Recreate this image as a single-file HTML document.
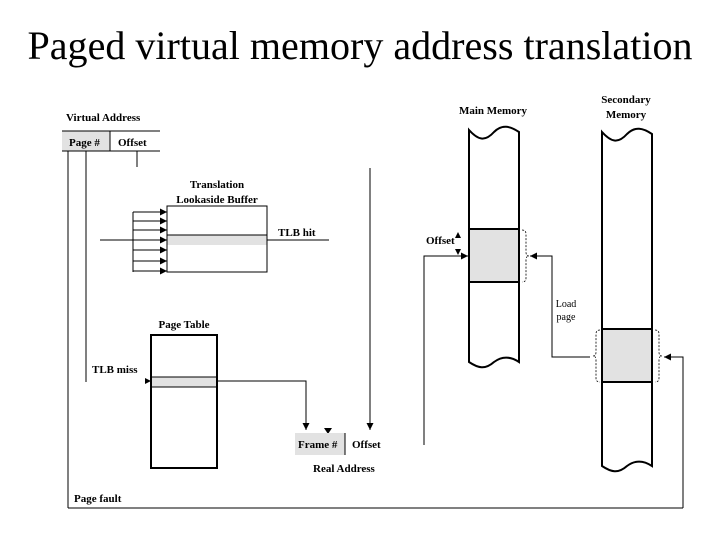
<!DOCTYPE html>
<html><head><meta charset="utf-8"><style>
html,body{margin:0;padding:0;background:#fff;}
svg{display:block;}
text{font-family:"Liberation Serif",serif;fill:#000;}
.b{font-weight:bold;font-size:11px;}
</style></head><body>
<svg width="720" height="540" viewBox="0 0 720 540" xmlns="http://www.w3.org/2000/svg">
<defs>
<marker id="a" markerWidth="8" markerHeight="8" refX="7" refY="4" orient="auto" markerUnits="userSpaceOnUse">
<path d="M0,0.5 L7,4 L0,7.5 Z" fill="#000"/></marker>
</defs>
<text x="360" y="59" font-size="40" text-anchor="middle" textLength="665" lengthAdjust="spacingAndGlyphs">Paged virtual memory address translation</text>

<!-- Virtual address -->
<text class="b" x="66" y="121">Virtual Address</text>
<rect x="62" y="131" width="48" height="20" fill="#e2e2e2"/>
<line x1="62" y1="131" x2="160" y2="131" stroke="#000"/>
<line x1="62" y1="151" x2="160" y2="151" stroke="#000"/>
<line x1="110" y1="131" x2="110" y2="151" stroke="#000"/>
<text class="b" x="69" y="146">Page #</text>
<text class="b" x="118" y="146">Offset</text>
<line x1="68" y1="151" x2="68" y2="508" stroke="#000"/>
<line x1="86" y1="151" x2="86" y2="382" stroke="#000"/>
<line x1="137" y1="151" x2="137" y2="167" stroke="#000"/>
<line x1="68" y1="508" x2="683" y2="508" stroke="#000"/>
<text class="b" x="74" y="502">Page fault</text>

<!-- TLB -->
<text class="b" x="217" y="188" text-anchor="middle">Translation</text>
<text class="b" x="217" y="203" text-anchor="middle">Lookaside Buffer</text>
<rect x="167" y="235" width="100" height="10" fill="#e2e2e2"/>
<rect x="167" y="206" width="100" height="66" fill="none" stroke="#000"/>
<line x1="167" y1="235" x2="267" y2="235" stroke="#000"/>
<line x1="100" y1="240" x2="167" y2="240" stroke="#000" marker-end="url(#a)"/>
<line x1="133" y1="212" x2="133" y2="272" stroke="#000"/>
<line x1="133" y1="212" x2="167" y2="212" stroke="#000" marker-end="url(#a)"/>
<line x1="133" y1="221" x2="167" y2="221" stroke="#000" marker-end="url(#a)"/>
<line x1="133" y1="230" x2="167" y2="230" stroke="#000" marker-end="url(#a)"/>
<line x1="133" y1="250" x2="167" y2="250" stroke="#000" marker-end="url(#a)"/>
<line x1="133" y1="261" x2="167" y2="261" stroke="#000" marker-end="url(#a)"/>
<line x1="133" y1="271" x2="167" y2="271" stroke="#000" marker-end="url(#a)"/>
<line x1="267" y1="240" x2="329" y2="240" stroke="#000"/>
<text class="b" x="278" y="236">TLB hit</text>

<!-- Page table -->
<text class="b" x="184" y="328" text-anchor="middle">Page Table</text>
<rect x="151" y="377" width="66" height="10" fill="#e2e2e2"/>
<rect x="151" y="335" width="66" height="133" fill="none" stroke="#000" stroke-width="2"/>
<line x1="151" y1="377" x2="217" y2="377" stroke="#000"/>
<line x1="151" y1="387" x2="217" y2="387" stroke="#000"/>
<path d="M145,378 L151,381 L145,384 Z" fill="#000"/>
<text class="b" x="92" y="373">TLB miss</text>
<path d="M217,381 H306 V430" fill="none" stroke="#000" marker-end="url(#a)"/>
<path d="M324,428 L332,428 L328,434 Z" fill="#000"/>
<line x1="370" y1="168" x2="370" y2="430" stroke="#000" marker-end="url(#a)"/>

<!-- Real address -->
<rect x="295" y="433" width="50" height="22" fill="#e2e2e2"/>
<line x1="345" y1="433" x2="345" y2="455" stroke="#000"/>
<text class="b" x="298" y="448">Frame #</text>
<text class="b" x="352" y="448">Offset</text>
<text class="b" x="313" y="472">Real Address</text>

<!-- Main memory -->
<text class="b" x="493" y="114" text-anchor="middle">Main Memory</text>
<rect x="469" y="229" width="50" height="53" fill="#e2e2e2"/>
<path d="M469,130 C478,140 485,142 494,132 C502,124 510,126 519,132 V362 C510,356 502,356 494,362 C485,370 478,368 469,362 Z" fill="none" stroke="#000" stroke-width="2"/>
<line x1="469" y1="229" x2="519" y2="229" stroke="#000" stroke-width="2"/>
<line x1="469" y1="282" x2="519" y2="282" stroke="#000" stroke-width="2"/>
<path d="M522,230 q4,0 4,4 v18 q0,4 3,4 q-3,0 -3,4 v18 q0,4 -4,4" fill="none" stroke="#000" stroke-dasharray="2,1.5" stroke-width="0.8"/>
<text class="b" x="426" y="244" font-size="10">Offset</text>
<path d="M455,238 L461,238 L458,232 Z" fill="#000"/>
<path d="M455,249 L461,249 L458,255 Z" fill="#000"/>
<path d="M424,445 V256 H468" fill="none" stroke="#000" marker-end="url(#a)"/>

<!-- Secondary memory -->
<text class="b" x="626" y="103" text-anchor="middle">Secondary</text>
<text class="b" x="626" y="118" text-anchor="middle">Memory</text>
<rect x="602" y="329" width="50" height="53" fill="#e2e2e2"/>
<path d="M602,132 C611,142 618,144 627,134 C635,126 643,128 652,134 V466 C643,460 635,460 627,466 C618,474 611,472 602,466 Z" fill="none" stroke="#000" stroke-width="2"/>
<line x1="602" y1="329" x2="652" y2="329" stroke="#000" stroke-width="2"/>
<line x1="602" y1="382" x2="652" y2="382" stroke="#000" stroke-width="2"/>
<path d="M600,330 q-4,0 -4,4 v18 q0,4 -3,4 q3,0 3,4 v18 q0,4 4,4" fill="none" stroke="#000" stroke-dasharray="2,1.5" stroke-width="0.8"/>
<path d="M655,330 q4,0 4,4 v18 q0,4 3,4 q-3,0 -3,4 v18 q0,4 -4,4" fill="none" stroke="#000" stroke-dasharray="2,1.5" stroke-width="0.8"/>
<path d="M590,357 H552 V256 H530" fill="none" stroke="#000" marker-end="url(#a)"/>
<text x="566" y="307" font-size="10" text-anchor="middle">Load</text>
<text x="566" y="320" font-size="10" text-anchor="middle">page</text>
<path d="M683,508 V357 H664" fill="none" stroke="#000" marker-end="url(#a)"/>
</svg>
</body></html>
